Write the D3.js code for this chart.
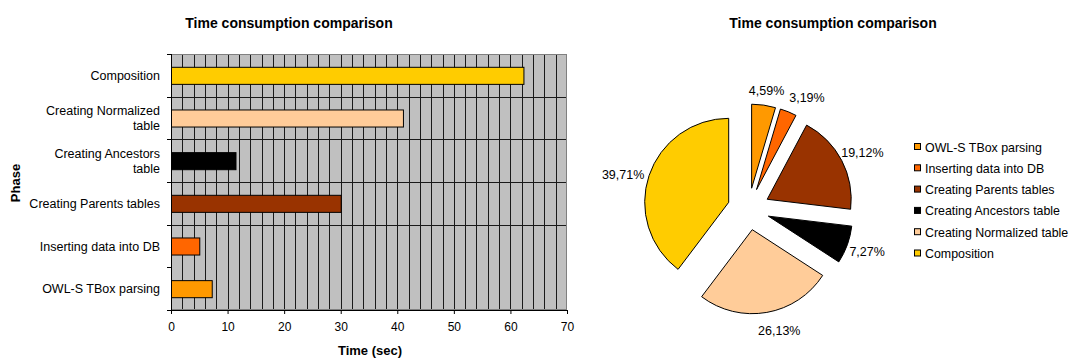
<!DOCTYPE html>
<html>
<head>
<meta charset="utf-8">
<script src="https://cdn.jsdelivr.net/npm/d3@7"></script>
<style>
  html, body { margin: 0; padding: 0; background: #fff; }
  svg { display: block; font-family: "Liberation Sans", Arial, sans-serif; }
</style>
</head>
<body>
<svg id="chart" width="1072" height="358"></svg>
<script>
// Phases, bottom-to-top as they appear on the bar chart and in pie order
const phases = [
  "OWL-S TBox parsing",
  "Inserting data into DB",
  "Creating Parents tables",
  "Creating Ancestors table",
  "Creating Normalized table",
  "Composition"
];
// Time spent in each phase (seconds)
const seconds = [7.2, 5.0, 30.0, 11.4, 41.0, 62.3];
const colors = ["#FF9900", "#FF6600", "#993300", "#000000", "#FFCC99", "#FFCC00"];
// Category labels as wrapped on the axis
const axisLabels = [
  ["OWL-S TBox parsing"],
  ["Inserting data into DB"],
  ["Creating Parents tables"],
  ["Creating Ancestors", "table"],
  ["Creating Normalized", "table"],
  ["Composition"]
];
const xTicks = [0, 10, 20, 30, 40, 50, 60, 70];
const title = "Time consumption comparison";

const svg = d3.select("#chart");
const bodyFont = 12.5;

// ---------- Bar chart ----------
const plot = { left: 171, right: 567, top: 54, bottom: 310 };
const x = d3.scaleLinear().domain([0, 70]).range([plot.left, plot.right]);
const y = d3.scaleBand()
  .domain(d3.range(phases.length).reverse())
  .range([plot.top, plot.bottom])
  .paddingInner(0).paddingOuter(0);

svg.append("text")
  .attr("x", 289).attr("y", 28)
  .attr("text-anchor", "middle")
  .attr("font-size", 14).attr("font-weight", "bold")
  .text(title);

svg.append("rect")
  .attr("x", plot.left).attr("y", plot.top)
  .attr("width", plot.right - plot.left).attr("height", plot.bottom - plot.top)
  .attr("fill", "#C0C0C0");

// vertical gridlines every 2 s
const grid = svg.append("g");
grid.selectAll("line.v")
  .data(d3.range(2, 70, 2))
  .join("line")
  .attr("x1", d => Math.round(x(d)) + 0.5).attr("x2", d => Math.round(x(d)) + 0.5)
  .attr("y1", plot.top).attr("y2", plot.bottom)
  .attr("stroke", "#1a1a1a").attr("stroke-width", 1);
// horizontal lines at category boundaries
grid.selectAll("line.h")
  .data(d3.range(1, phases.length))
  .join("line")
  .attr("x1", plot.left).attr("x2", plot.right)
  .attr("y1", d => Math.round(y(d)) + 0.5).attr("y2", d => Math.round(y(d)) + 0.5)
  .attr("stroke", "#1a1a1a").attr("stroke-width", 1);

svg.append("rect")
  .attr("x", plot.left + 0.5).attr("y", plot.top + 0.5)
  .attr("width", plot.right - plot.left - 1).attr("height", plot.bottom - plot.top - 1)
  .attr("fill", "none").attr("stroke", "#808080");

// bars
const barH = y.bandwidth() * 0.4;
svg.append("g").selectAll("rect")
  .data(seconds)
  .join("rect")
  .attr("x", x(0) + 0.5)
  .attr("y", (d, i) => y(i) + (y.bandwidth() - barH) / 2 + 0.5)
  .attr("width", d => x(d) - x(0))
  .attr("height", barH)
  .attr("fill", (d, i) => colors[i])
  .attr("stroke", "#000").attr("stroke-width", 1);

// x axis
const xAxis = svg.append("g")
  .attr("transform", `translate(0,${plot.bottom})`)
  .call(d3.axisBottom(x).tickValues(xTicks).tickSize(4).tickPadding(8));
xAxis.select(".domain").attr("stroke", "#000");
xAxis.selectAll("text").attr("font-size", 12).attr("font-family", "Liberation Sans, Arial, sans-serif").attr("fill", "#000");

// y axis (ticks at category boundaries)
const yAxisG = svg.append("g");
yAxisG.append("line")
  .attr("x1", plot.left + 0.5).attr("x2", plot.left + 0.5)
  .attr("y1", plot.top).attr("y2", plot.bottom + 4)
  .attr("stroke", "#000");
yAxisG.selectAll("line.t")
  .data(d3.range(0, phases.length + 1))
  .join("line")
  .attr("x1", plot.left - 4).attr("x2", plot.left)
  .attr("y1", d => Math.round(plot.top + d * y.bandwidth()) + 0.5)
  .attr("y2", d => Math.round(plot.top + d * y.bandwidth()) + 0.5)
  .attr("stroke", "#000");

const catLabels = svg.append("g").selectAll("text")
  .data(axisLabels)
  .join("text")
  .attr("text-anchor", "end")
  .attr("font-size", bodyFont)
  .attr("x", 160)
  .attr("y", (d, i) => y(i) + y.bandwidth() / 2);
catLabels.each(function (lines) {
  const t = d3.select(this);
  const lh = 15;
  lines.forEach((ln, k) => {
    t.append("tspan")
      .attr("x", 160)
      .attr("dy", k === 0 ? (4.5 - (lines.length - 1) * lh / 2) : lh)
      .text(ln);
  });
});

svg.append("text")
  .attr("x", (plot.left + plot.right) / 2 + 1).attr("y", 355)
  .attr("text-anchor", "middle")
  .attr("font-size", 13).attr("font-weight", "bold")
  .text("Time (sec)");

svg.append("text")
  .attr("transform", `translate(20,${(plot.top + plot.bottom) / 2 + 1}) rotate(-90)`)
  .attr("text-anchor", "middle")
  .attr("font-size", 13).attr("font-weight", "bold")
  .text("Phase");

// ---------- Pie chart ----------
svg.append("text")
  .attr("x", 833).attr("y", 28)
  .attr("text-anchor", "middle")
  .attr("font-size", 14).attr("font-weight", "bold")
  .text(title);

const cx = 748.6, cy = 209, radius = 84, explode = 21, labelR = 125;
const total = d3.sum(seconds);
const pie = d3.pie().sort(null).value(d => d)(seconds);
const arc = d3.arc().innerRadius(0).outerRadius(radius);
const fmt = v => (v * 100).toFixed(2).replace(".", ",") + "%";
// small nudges that keep neighbouring percentage labels apart
const labelNudge = [[0, 5], [11, 4], [3, 1], [1, 0], [9, -2], [-7, 5]];

const pg = svg.append("g").attr("transform", `translate(${cx},${cy})`);
pg.selectAll("path")
  .data(pie)
  .join("path")
  .attr("d", arc)
  .attr("transform", d => {
    const a = (d.startAngle + d.endAngle) / 2;
    return `translate(${explode * Math.sin(a)},${-explode * Math.cos(a)})`;
  })
  .attr("fill", (d, i) => colors[i])
  .attr("stroke", "#000").attr("stroke-width", 1);

pg.selectAll("text")
  .data(pie)
  .join("text")
  .attr("x", (d, i) => labelR * Math.sin((d.startAngle + d.endAngle) / 2) + labelNudge[i][0])
  .attr("y", (d, i) => -labelR * Math.cos((d.startAngle + d.endAngle) / 2) + 4.5 + labelNudge[i][1])
  .attr("text-anchor", "middle")
  .attr("font-size", bodyFont)
  .text(d => fmt(d.value / total));

// legend
const lg = svg.append("g").attr("transform", "translate(914,147)");
const legendItems = lg.selectAll("g")
  .data(phases)
  .join("g")
  .attr("transform", (d, i) => `translate(0,${i * 21.3})`);
legendItems.append("rect")
  .attr("x", 0.5).attr("y", -3.5)
  .attr("width", 6).attr("height", 6)
  .attr("fill", (d, i) => colors[i])
  .attr("stroke", "#000").attr("stroke-width", 1);
legendItems.append("text")
  .attr("x", 11).attr("y", 4.5)
  .attr("font-size", 12.4)
  .text(d => d);
</script>
</body>
</html>
